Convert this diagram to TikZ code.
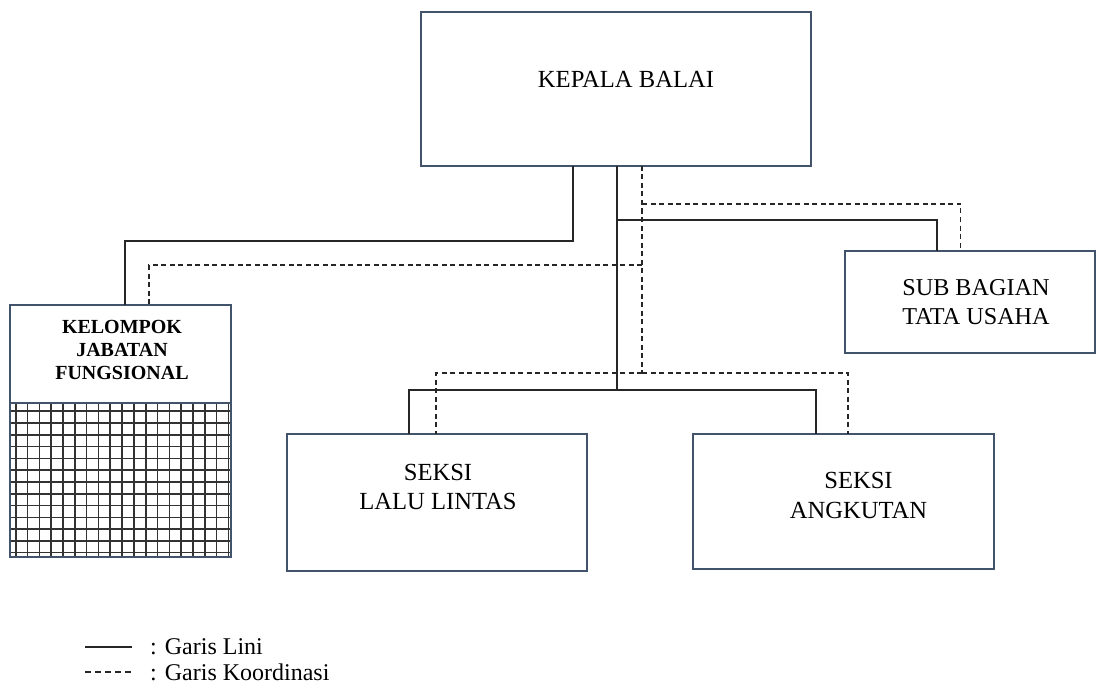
\documentclass[tikz,border=0pt]{standalone}
\usepackage{fontspec}
\setmainfont{Liberation Serif}
\definecolor{boxline}{RGB}{66,84,108}
\begin{document}
\begin{tikzpicture}[x=1pt,y=-1pt,
  unit/.style={rectangle,draw=boxline,line width=1.8pt,inner sep=0pt,outer sep=0pt},
  lini/.style={line width=1.6pt,draw=black!85},
  koord/.style={line width=1.6pt,draw=black!85,dash pattern=on 5pt off 3.5pt},
  lbl/.style={font=\fontsize{24.6}{29}\selectfont,align=center,inner sep=0pt},
  gridline/.style={line width=1.6pt,draw=black!80},
]
\useasboundingbox (0,0) rectangle (1097,687);

% hatched lower part of the functional group box
\foreach \i in {0,...,18}
  \draw[gridline] ({15.7+11.82*\i},403) -- ({15.7+11.82*\i},557);
\foreach \j in {-1,...,11}
  \draw[gridline] (10,{423+11.79*\j}) -- (231,{423+11.79*\j});

% boxes
\node[unit,minimum width=390pt,minimum height=154pt] (kb) at (616,89) {};
\node[unit,minimum width=250pt,minimum height=102pt] (sbtu) at (970,302) {};
\node[unit,minimum width=221pt,minimum height=252pt] (kjf) at (120.5,431) {};
\node[unit,minimum width=300pt,minimum height=137pt] (sll) at (437,502.5) {};
\node[unit,minimum width=301pt,minimum height=135pt] (sa) at (843.5,501.5) {};
\draw[boxline,line width=1.8pt] ([yshift=28pt]kjf.west) -- ([yshift=28pt]kjf.east);

% box texts
\node[lbl] (kb-t) at (626,79) {KEPALA BALAI};
\node[lbl,font=\fontsize{24.2}{28.5}\selectfont] (sbtu-t) at (976,302) {SUB BAGIAN\\TATA USAHA};
\node[lbl,font=\fontsize{20}{23}\selectfont\bfseries] (kjf-t) at (122,350) {KELOMPOK\\JABATAN\\FUNGSIONAL};
\node[lbl] (sll-t) at (438,486.5) {SEKSI\\LALU LINTAS};
\node[lbl,font=\fontsize{24.6}{30}\selectfont] (sa-t) at (858.5,495) {SEKSI\\ANGKUTAN};

% junction points
\coordinate (sj) at (617,390);
\coordinate (sb) at (617,220);
\coordinate (dj) at (642,373);
\coordinate (db) at (642,204);
\coordinate (dl) at (642,265);

% line of command (solid)
\draw[lini] ([xshift=-43pt]kb.south) |- ([xshift=4.5pt,yshift=64pt]kjf.north) -- ([xshift=4.5pt]kjf.north);
\draw[lini] ([xshift=1pt]kb.south) -- (sj);
\draw[lini] (sb) -| ([xshift=-33pt]sbtu.north);
\draw[lini] (sj) -| ([xshift=-28pt]sll.north);
\draw[lini] (sj) -| ([xshift=-27.5pt]sa.north);

% line of coordination (dashed)
\draw[koord] ([xshift=26pt]kb.south) -- (dj);
\draw[koord] (db) -| ([xshift=-9.5pt]sbtu.north);
\draw[koord] (dl) -| ([xshift=28.5pt]kjf.north);
\draw[koord] (dj) -| ([xshift=-1pt]sll.north);
\draw[koord] (dj) -| ([xshift=4.5pt]sa.north);

% legend
\coordinate (l1a) at (85,647);
\coordinate (l1b) at (132,647);
\coordinate (l2a) at (85,672);
\coordinate (l2b) at (132,672);
\draw[lini] (l1a) -- (l1b);
\draw[koord,dash pattern=on 6pt off 4pt] (l2a) -- (l2b);
\node[lbl,font=\fontsize{24}{29}\selectfont,anchor=west] (leg1) at (150,647) {: Garis Lini};
\node[lbl,font=\fontsize{24}{29}\selectfont,anchor=west] (leg2) at (150,672) {: Garis Koordinasi};
\end{tikzpicture}
\end{document}
